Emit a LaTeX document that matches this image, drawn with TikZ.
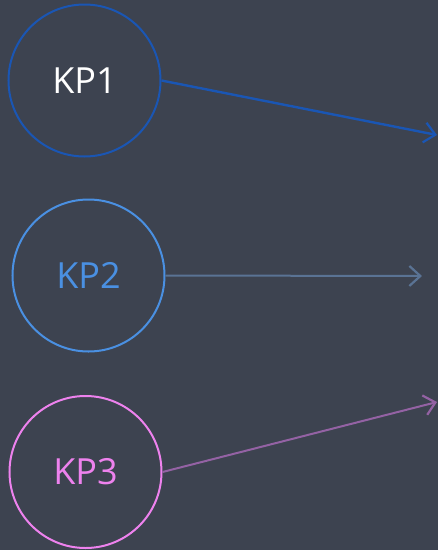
\documentclass[tikz,border=0pt]{standalone}
\usepackage{fontspec}
\setmainfont{Open Sans}
\usetikzlibrary{arrows.meta}
\definecolor{bgdark}{HTML}{3D4350}
\definecolor{kpone}{HTML}{1A56B4}
\definecolor{kptwo}{HTML}{4A90E2}
\definecolor{kpthree}{HTML}{EE82EE}
\definecolor{linktwo}{HTML}{5A7394}
\definecolor{linkthree}{HTML}{9462A4}
\tikzset{
  kp/.style={circle, draw, line width=2pt, minimum size=152pt, inner sep=0pt,
             font=\fontsize{36}{40}\selectfont},
  link/.style={line width=2.4pt, -{Straight Barb[length=11pt,width=20pt,line width=2.2pt]}}
}
\begin{document}
\begin{tikzpicture}[x=1pt,y=-1pt]
  \fill[bgdark] (0,0) rectangle (438,550);
  \useasboundingbox (0,0) rectangle (438,550);

  \node[kp, draw=kpone, text=white] (kp1) at (84.5,80.5) {KP1};
  \node[kp, draw=kptwo, text=kptwo] (kp2) at (88.5,275.5) {KP2};
  \node[kp, draw=kpthree, text=kpthree] (kp3) at (85.5,472) {KP3};

  \coordinate (e1) at (437,135);
  \coordinate (e2) at (422,276);
  \coordinate (e3) at (437,402);

  \draw[link, kpone] (kp1.east) -- (e1);
  \draw[link, linktwo, line width=2pt] (kp2.east) -- (e2);
  \draw[link, linkthree, line width=2pt] (kp3.east) -- (e3);
\end{tikzpicture}
\end{document}
